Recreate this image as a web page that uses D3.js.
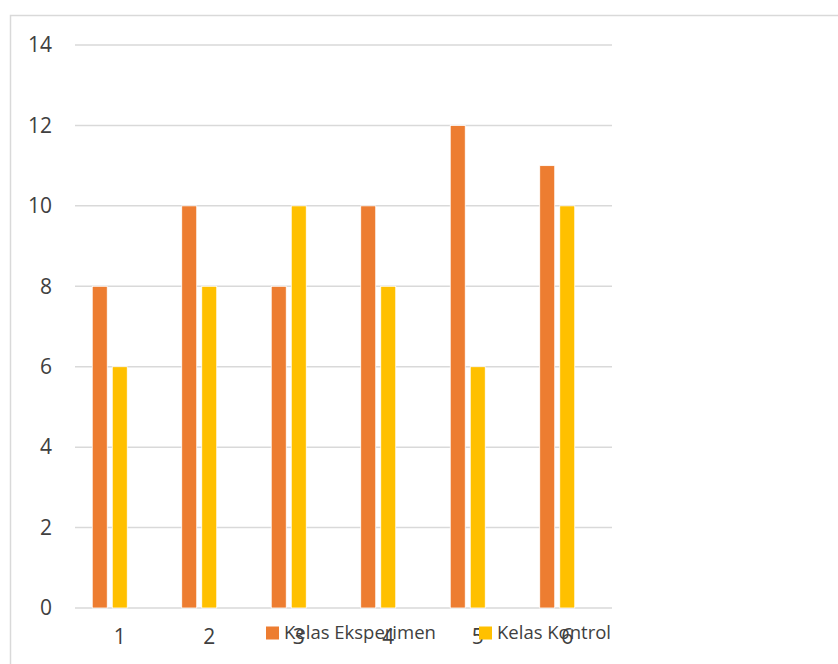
<!DOCTYPE html>
<html>
<head>
<meta charset="utf-8">
<script src="https://cdn.jsdelivr.net/npm/d3@7"></script>
<style>
  html, body { margin: 0; padding: 0; background: #fff; }
  svg { display: block; }
  text { font-family: "Open Sans", "Noto Sans", sans-serif; fill: #404040; }
</style>
</head>
<body>
<svg id="chart" width="838" height="664"></svg>
<script>
// Scores per group for the two classes
const categories = ["1", "2", "3", "4", "5", "6"];
const seriesNames = ["Kelas Eksperimen", "Kelas Kontrol"];
const eksperimen = [8, 10, 8, 10, 12, 11];
const kontrol = [6, 8, 10, 8, 6, 10];
const yTicks = [0, 2, 4, 6, 8, 10, 12, 14];
const colors = ["#ED7D31", "#FFC000"];

const svg = d3.select("#chart");
const W = 838, H = 664;

// Chart frame
svg.append("rect")
  .attr("x", 10.5).attr("y", 15.5)
  .attr("width", W + 20).attr("height", H + 20)
  .attr("fill", "#fff")
  .attr("stroke", "#d9d9d9").attr("stroke-width", 1.5);

const plot = { left: 75, right: 612, top: 45, bottom: 608 };

const y = d3.scaleLinear().domain([0, 14]).range([plot.bottom, plot.top]);
const x0 = d3.scaleBand().domain(categories).range([plot.left, plot.right])
  .paddingInner(0.385).paddingOuter(0.1925);
// three slots per cluster, the last one is left empty
const x1 = d3.scaleBand().domain(d3.range(3)).range([0, x0.bandwidth()]).paddingInner(0.25);

// Gridlines
svg.append("g").selectAll("line").data(yTicks).join("line")
  .attr("x1", plot.left).attr("x2", plot.right)
  .attr("y1", d => y(d)).attr("y2", d => y(d))
  .attr("stroke", "#d9d9d9").attr("stroke-width", 1.5);

// Y axis labels
const yAxis = d3.axisLeft(y).tickValues(yTicks).tickSize(0).tickPadding(0);
const gy = svg.append("g").attr("transform", `translate(${plot.left - 23},0)`).call(yAxis);
gy.select(".domain").remove();
gy.selectAll("text").attr("font-size", 21).style("fill", "#404040")
  .attr("font-family", "Open Sans, Noto Sans, sans-serif");

// Bars
const series = [eksperimen, kontrol];
series.forEach((vals, si) => {
  svg.append("g").selectAll("rect").data(vals).join("rect")
    .attr("x", (d, i) => x0(categories[i]) + x1(si))
    .attr("y", d => y(d))
    .attr("width", x1.bandwidth())
    .attr("height", d => y(0) - y(d))
    .attr("fill", colors[si])
    .attr("stroke", "#fff").attr("stroke-width", 0.8);
});

// X axis labels
const xAxis = d3.axisBottom(x0).tickSize(0).tickPadding(0);
const gx = svg.append("g").attr("transform", `translate(0,${plot.bottom + 21})`).call(xAxis);
gx.select(".domain").remove();
gx.selectAll("text").attr("font-size", 21).style("fill", "#404040")
  .attr("font-family", "Open Sans, Noto Sans, sans-serif");

// Legend
const legendX = [266, 479];
const legend = svg.append("g");
seriesNames.forEach((name, i) => {
  legend.append("rect")
    .attr("x", legendX[i]).attr("y", 626.5)
    .attr("width", 13).attr("height", 13)
    .attr("fill", colors[i]);
  legend.append("text")
    .attr("x", legendX[i] + 18).attr("y", 633)
    .attr("dy", "0.35em")
    .attr("font-size", 18.5)
    .text(name);
});
</script>
</body>
</html>
